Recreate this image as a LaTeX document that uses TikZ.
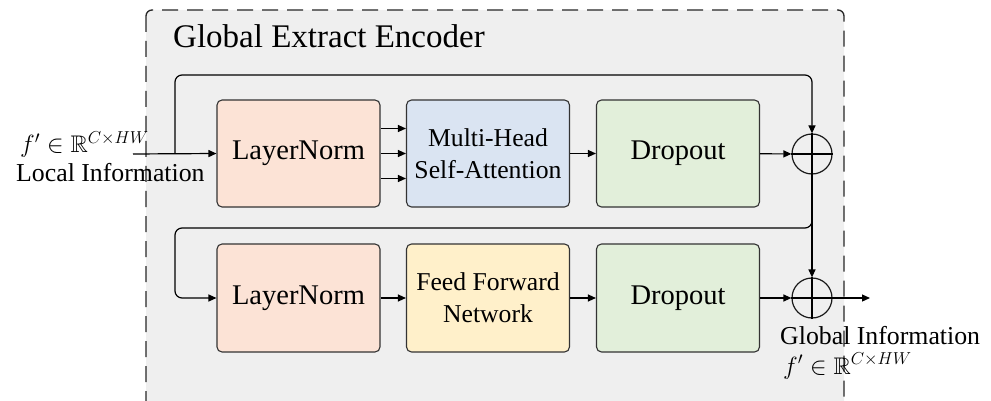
\documentclass[tikz,border=0pt]{standalone}
\usepackage{amsmath}
\usepackage{amssymb}
\usepackage{fontspec}
\setmainfont{Liberation Serif}
\usetikzlibrary{positioning,arrows.meta}

\definecolor{normfill}{HTML}{FCE3D6}
\definecolor{attnfill}{HTML}{DAE4F2}
\definecolor{dropfill}{HTML}{E2EFDA}
\definecolor{ffnfill}{HTML}{FFF0CA}
\definecolor{encfill}{HTML}{EFEFEF}

\begin{document}
\begin{tikzpicture}[
    x=1pt, y=-1pt,
    % GLOBAL CFG
    >={Triangle[length=8pt,width=7pt]},
    % Styles
    encoder/.style={% The dashed outer frame
        draw=black!85,
        fill=encfill,
        line width=1.3pt,
        dash pattern=on 16pt off 9pt,
        rounded corners=6pt,
        },
    block/.style={% For the main boxes
        rectangle,
        rounded corners=5pt,
        draw=black!80,
        line width=1.1pt,
        minimum width=163pt,
        minimum height=107pt,
        align=center,
        },
    bigtext/.style={% one-line box labels
        font=\fontsize{28.5}{32}\selectfont
        },
    smalltext/.style={% two-line box labels
        font=\fontsize{25.7}{32}\selectfont
        },
    adder/.style={% For the + operators
        circle,
        draw=black!90,
        line width=1.2pt,
        minimum size=40pt,
        inner sep=0pt,
        },
    mylabel/.style={% outside texts
        font=\fontsize{25.8}{30}\selectfont,
        inner sep=0pt,
        anchor=base west,
        },
    ArrowC1/.style={% Arrows with rounded corners
        rounded corners=7pt,
        line width=1.2pt,
        },
    ]

\useasboundingbox (0,0) rectangle (991,401);
\clip (0,0) rectangle (991,401);

% Outer frame (runs past the lower edge)
\draw[encoder] (146,10) rectangle (844,410);
\node[mylabel, font=\fontsize{33}{36}\selectfont] (title) at (173,48) {Global Extract Encoder};

% First row
\node[block, fill=normfill, bigtext] (ln1) at (298.5,153.5) {LayerNorm};
\node[block, fill=attnfill, smalltext] (mhsa) at (488,153.5) {Multi-Head\\Self-Attention};
\node[block, fill=dropfill, bigtext] (drop1) at (678,153.5) {Dropout};
\node[adder] (add1) at (812,154) {};
\draw[line width=1.2pt] (add1.north) -- (add1.south) (add1.west) -- (add1.east);

% Second row
\node[block, fill=normfill, bigtext, minimum height=108pt] (ln2) at (298.5,298) {LayerNorm};
\node[block, fill=ffnfill, smalltext, minimum height=108pt] (ffn) at (488,298) {Feed Forward\\Network};
\node[block, fill=dropfill, bigtext, minimum height=108pt] (drop2) at (678,298) {Dropout};
\node[adder] (add2) at (812,298) {};
\draw[line width=1.2pt] (add2.north) -- (add2.south) (add2.west) -- (add2.east);

% Input / output labels
\node[mylabel, font=\fontsize{24}{28}\selectfont] (fin) at (20,153) {$f'\in\mathbb{R}^{C\times HW}$};
\node[mylabel] (local) at (16,182) {Local Information};
\node[mylabel] (global) at (780,344) {Global Information};
\node[mylabel, font=\fontsize{24}{28}\selectfont] (fout) at (783,374) {$f'\in\mathbb{R}^{C\times HW}$};

\coordinate (in) at (133,154);
\coordinate (split) at (175,154);
\coordinate (skiptop) at (175,75);
\coordinate (skipmid) at (175,228);
\coordinate (out) at (870,298);

% Arrows, first row
\draw [->, ArrowC1] (in) -- (ln1.west);
\draw [->, ArrowC1] (split) -- (skiptop) -| (add1.north);
\foreach \dy in {-25,0,25}
    \draw [->, ArrowC1] ([yshift=\dy pt]ln1.east) -- ([yshift=\dy pt]mhsa.west);
\draw [->, ArrowC1] (mhsa) -- (drop1);
\draw [->, ArrowC1] (drop1) -- (add1);

% Arrows, second row
\draw [->, ArrowC1] (add1.south) -- (add1.south |- skipmid) -- (skipmid) |- (ln2.west);
\draw [->, ArrowC1] (add1.south) -- (add2.north);
\draw [->, ArrowC1] (ln2) -- (ffn);
\draw [->, ArrowC1] (ffn) -- (drop2);
\draw [->, ArrowC1] (drop2) -- (add2);
\draw [->, ArrowC1] (add2.east) -- (out);

\end{tikzpicture}
\end{document}
